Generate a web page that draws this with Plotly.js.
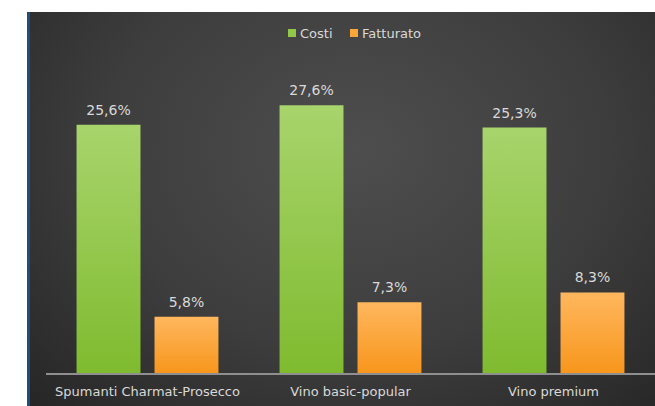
<!DOCTYPE html>
<html>
<head>
<meta charset="utf-8">
<script src="https://cdn.plot.ly/plotly-3.0.1.min.js"></script>
<style>
  html, body { margin:0; padding:0; background:#ffffff; width:655px; height:406px; overflow:hidden; }
  #bg { position:absolute; left:27px; top:12px; width:628px; height:394px;
        border-left:3px solid #1f4e79; box-sizing:border-box;
        background: radial-gradient(ellipse at 52% 35%, #4e4e4e 0%, #3d3d3d 55%, #262626 100%); }
  #chart { position:absolute; left:0; top:0; width:655px; height:406px; }
</style>
</head>
<body>
<div id="bg"></div>
<div id="chart"></div>
<script>
const categories = ["Spumanti Charmat-Prosecco", "Vino basic-popular", "Vino premium"];
const costi = [25.6, 27.6, 25.3];
const fatturato = [5.8, 7.3, 8.3];
const seriesNames = ["Costi", "Fatturato"];

const FONT = "'DejaVu Sans', sans-serif";
const TXT = "#d9d9d9";

const traces = [
  { type:"bar", name:seriesNames[0], x:categories, y:costi,
    marker:{ color:"#92c847" },
    texttemplate:"%{y:.1f}%", textposition:"outside", cliponaxis:false,
    textfont:{ family:FONT, size:14, color:TXT }, hoverinfo:"none" },
  { type:"bar", name:seriesNames[1], x:categories, y:fatturato,
    marker:{ color:"#fba53a" },
    texttemplate:"%{y:.1f}%", textposition:"outside", cliponaxis:false,
    textfont:{ family:FONT, size:14, color:TXT }, hoverinfo:"none" }
];

const layout = {
  width:655, height:406,
  margin:{ l:46, r:0, t:82, b:33, pad:0 },
  paper_bgcolor:"rgba(0,0,0,0)", plot_bgcolor:"rgba(0,0,0,0)",
  separators:",.",
  barmode:"group", bargap:0.232, bargroupgap:0.18,
  font:{ family:FONT, color:TXT, size:13 },
  showlegend:true,
  legend:{ orientation:"h", x:0.505, xanchor:"center", y:1.168, yanchor:"middle",
           font:{ family:FONT, size:13, color:TXT }, itemwidth:30, traceorder:"normal",
           bgcolor:"rgba(0,0,0,0)" },
  xaxis:{ showline:true, linecolor:"#8f8f8f", linewidth:1.5, ticks:"", showgrid:false,
          zeroline:false, ticklabelstandoff:6,
          tickfont:{ family:FONT, size:13, color:TXT }, fixedrange:true },
  yaxis:{ range:[0,30], visible:false, showgrid:false, zeroline:false, fixedrange:true }
};

Plotly.newPlot("chart", traces, layout, { displayModeBar:false, staticPlot:true }).then(function(gd){
  const svg = gd.querySelector("svg.main-svg");
  const ns = "http://www.w3.org/2000/svg";
  let defs = svg.querySelector("defs");
  if (!defs) { defs = document.createElementNS(ns, "defs"); svg.insertBefore(defs, svg.firstChild); }
  function addGrad(id, top, bottom) {
    const g = document.createElementNS(ns, "linearGradient");
    g.setAttribute("id", id); g.setAttribute("x1","0"); g.setAttribute("y1","0");
    g.setAttribute("x2","0"); g.setAttribute("y2","1");
    [[0, top],[1, bottom]].forEach(function(s){
      const st = document.createElementNS(ns, "stop");
      st.setAttribute("offset", s[0]); st.setAttribute("stop-color", s[1]);
      g.appendChild(st);
    });
    defs.appendChild(g);
  }
  addGrad("gradG", "#a8d46c", "#7fbb2f");
  addGrad("gradO", "#ffb75e", "#f7961c");
  const groups = gd.querySelectorAll(".barlayer .trace.bars");
  groups.forEach(function(tg, i){
    tg.querySelectorAll("path").forEach(function(p){
      p.style.fill = i === 0 ? "url(#gradG)" : "url(#gradO)";
    });
    // lift value labels a little further above the bars
    tg.querySelectorAll("text").forEach(function(t){
      const tr = t.getAttribute("transform") || "";
      t.setAttribute("transform", "translate(0,-4) " + tr);
    });
  });

  // tighten legend: small squares, text close to square
  const items = gd.querySelectorAll(".legend .traces");
  items.forEach(function(it){
    it.querySelectorAll(".legendpoints path").forEach(function(p){
      p.setAttribute("d", "M4,4H-4V-4H4Z");
    });
    const txt = it.querySelector("text.legendtext");
    if (txt) txt.setAttribute("x", "28");
  });
  if (items.length === 2) {
    const m0 = /translate\(([-\d.]+)[ ,]+([-\d.]+)\)/.exec(items[0].getAttribute("transform") || "translate(0,0)");
    const x0 = m0 ? parseFloat(m0[1]) : 0, y0 = m0 ? parseFloat(m0[2]) : 0;
    items[1].setAttribute("transform", "translate(" + (x0 + 62) + "," + y0 + ")");
    // align first square to x = 288 px
    const sq = items[0].querySelector(".legendpoints path").getBoundingClientRect();
    const dx = 288 - sq.left;
    items.forEach(function(it){
      const m = /translate\(([-\d.]+)[ ,]+([-\d.]+)\)/.exec(it.getAttribute("transform"));
      it.setAttribute("transform", "translate(" + (parseFloat(m[1]) + dx) + "," + m[2] + ")");
    });
  }
});
</script>
</body>
</html>
